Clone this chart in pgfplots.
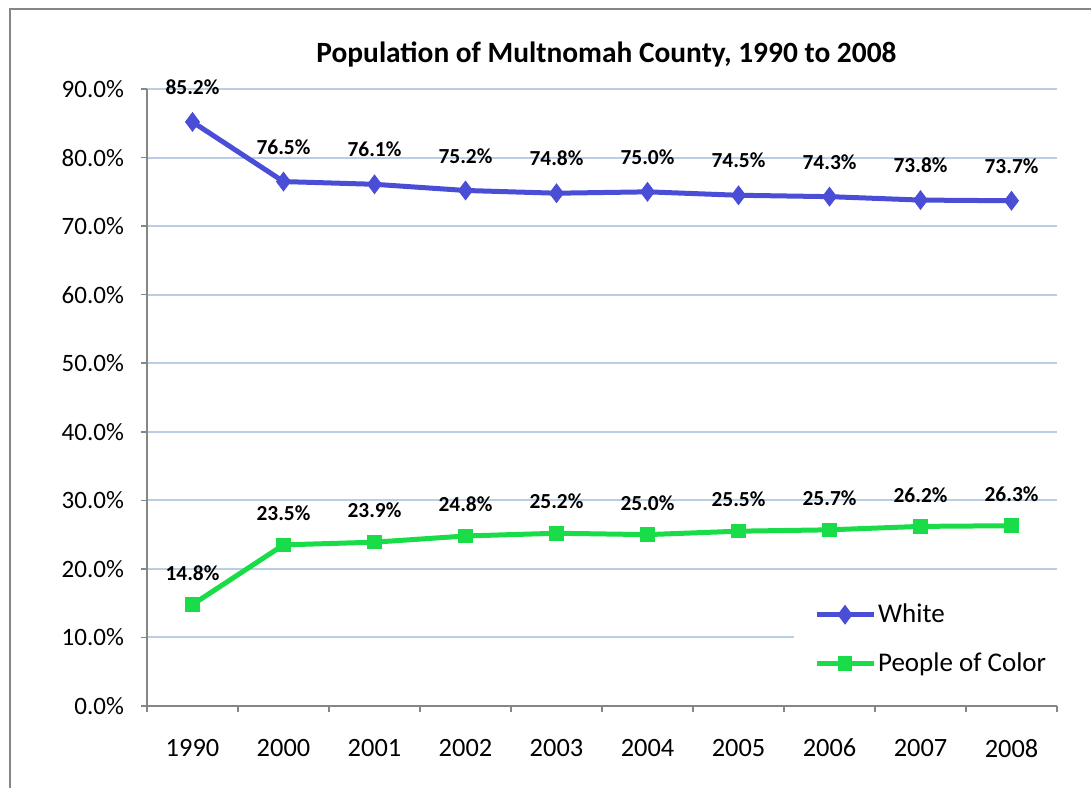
\documentclass[border=0pt]{standalone}
\usepackage{pgfplots}
\pgfplotsset{compat=1.18}
\usepackage{fontspec}
\setmainfont{Carlito}
\definecolor{whiteline}{RGB}{74,78,214}
\definecolor{pocline}{RGB}{24,220,72}
\definecolor{gridblue}{RGB}{185,205,229}
\definecolor{axisgray}{RGB}{134,134,134}
\begin{document}
\begin{tikzpicture}
\useasboundingbox (0,0) rectangle (545.5pt,-393.5pt);
\draw[axisgray, line width=1pt] (5pt,-420pt) -- (5pt,-4.5pt) -- (580pt,-4.5pt);
\node[font=\bfseries\fontsize{14.7}{17}\selectfont] at (303.2pt,-27pt) {Population of Multnomah County, 1990 to 2008};
\begin{axis}[
  at={(73.5pt,-353pt)}, anchor=south west,
  scale only axis, width=455pt, height=308.5pt,
  xmin=-0.5, xmax=9.5, ymin=0, ymax=90,
  clip=false,
  xtick={0,...,9},
  xticklabels={1990,2000,2001,2002,2003,2004,2005,2006,2007,2008},
  major x tick style={draw=none},
  minor xtick={-0.5,0.5,...,9.5},
  ytick={0,10,...,90},
  tick align=outside,
  major tick length=3pt, minor tick length=3pt,
  tick style={axisgray, line width=0.8pt},
  axis x line*=bottom, axis y line*=left,
  axis line style={axisgray, line width=1pt},
  ymajorgrids, grid style={gridblue, line width=1pt},
  /pgf/number format/assume math mode=true,
  ticklabel style={font=\fontsize{12.5}{14}\selectfont},
  xticklabel style={font=\fontsize{13.2}{15}\selectfont, yshift=-10pt},
  yticklabel={\pgfmathprintnumber[fixed,fixed zerofill,precision=1]{\tick}\%},
  yticklabel style={xshift=-5pt},
  point meta=y,
  nodes near coords={\pgfmathprintnumber[fixed,fixed zerofill,precision=1,assume math mode=true]{\pgfplotspointmeta}\%},
  every node near coord/.append style={font=\bfseries\fontsize{10.7}{12}\selectfont, black},
  legend image code/.code={\draw[#1, mark repeat=2, mark phase=2] plot coordinates {(0pt,0pt) (14pt,0pt) (28.5pt,0pt)};},
  legend style={at={(0.71,0.185)}, anchor=north west, draw=none, fill=white,
    font=\fontsize{13.5}{15}\selectfont, row sep=12pt, inner xsep=10.5pt, inner ysep=5pt,
    nodes={inner sep=0.8pt}},
  legend cell align=left,
]
\addplot[whiteline, line width=2.5pt, mark=diamond*, mark size=4.6pt, mark options={solid, fill=whiteline, line width=0.5pt},
  every node near coord/.append style={yshift=10pt}]
coordinates {(0,85.2) (1,76.5) (2,76.1) (3,75.2) (4,74.8) (5,75.0) (6,74.5) (7,74.3) (8,73.8) (9,73.7)};
\addlegendentry{White}
\addplot[pocline, line width=2.5pt, mark=square*, mark size=3.4pt, mark options={solid, fill=pocline, line width=0.5pt},
  every node near coord/.append style={yshift=8.5pt}]
coordinates {(0,14.8) (1,23.5) (2,23.9) (3,24.8) (4,25.2) (5,25.0) (6,25.5) (7,25.7) (8,26.2) (9,26.3)};
\addlegendentry{People of Color}
\end{axis}
\end{tikzpicture}
\end{document}
